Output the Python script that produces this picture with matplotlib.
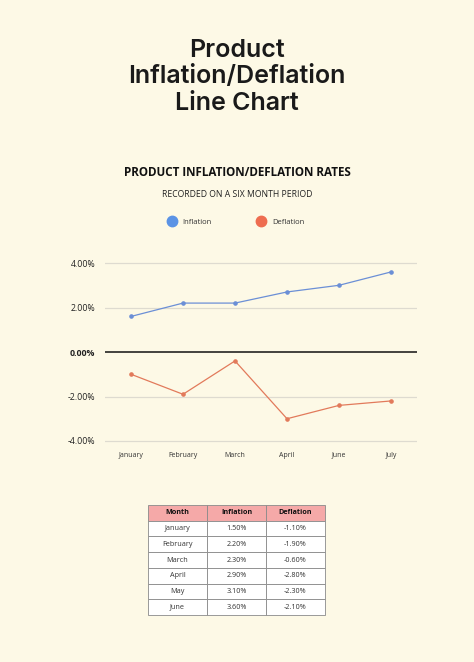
import numpy as np
import matplotlib.pyplot as plt
from matplotlib.lines import Line2D

months = ['January', 'February', 'March', 'April', 'June', 'July']
inflation = [1.6, 2.2, 2.2, 2.7, 3.0, 3.6]
deflation = [-1.0, -1.9, -0.4, -3.0, -2.4, -2.2]
y_ticks = [-4, -2, 0, 2, 4]

table_cols = ['Month', 'Inflation', 'Deflation']
table_months = ['January', 'February', 'March', 'April', 'May', 'June']
table_infl = ['1.50%', '2.20%', '2.30%', '2.90%', '3.10%', '3.60%']
table_defl = ['-1.10%', '-1.90%', '-0.60%', '-2.80%', '-2.30%', '-2.10%']

BG = '#fdf9e6'
BLUE = '#6b8fd6'
RED = '#e27a5b'
FONT = 'Open Sans'

plt.rcParams['font.family'] = [FONT, 'DejaVu Sans']

fig = plt.figure(figsize=(4.74, 6.62), dpi=100, facecolor=BG)

fig.text(0.5, 1 - 77 / 662, 'Product\nInflation/Deflation\nLine Chart', ha='center', va='center',
         fontsize=18, fontweight='semibold', family='Inter', color='#1a1a1a', linespacing=1.2)
fig.text(0.5, 1 - 173 / 662, 'PRODUCT INFLATION/DEFLATION RATES', ha='center', va='center',
         fontsize=8.4, fontweight='bold', color='#111111')
fig.text(0.5, 1 - 195 / 662, 'RECORDED ON A SIX MONTH PERIOD', ha='center', va='center',
         fontsize=6.2, color='#222222')

ax = fig.add_axes([105 / 474, 0.3305, 312 / 474, 0.2755])
ax.set_facecolor(BG)
x = np.arange(len(months))
ax.plot(x, inflation, color=BLUE, lw=0.9, marker='o', ms=2.3)
ax.plot(x, deflation, color=RED, lw=0.9, marker='o', ms=2.3)

for t in y_ticks:
    if t == 0:
        ax.axhline(t, color='#111111', lw=1.1, zorder=0)
    else:
        ax.axhline(t, color='#dedbd0', lw=0.9, zorder=0)

ax.set_xlim(-0.5, len(months) - 0.5)
ax.set_ylim(-4.1, 4.1)
ax.set_xticks(x)
ax.set_xticklabels(months, fontsize=5, color='#333333')
ax.set_yticks(y_ticks)
ax.set_yticklabels(['%.2f%%' % t for t in y_ticks], fontsize=6.3, color='#222222')
for lbl in ax.get_yticklabels():
    if lbl.get_text() == '0.00%':
        lbl.set_fontweight('bold')
ax.tick_params(length=0, pad=7)
ax.tick_params(axis='x', pad=6)
for s in ax.spines.values():
    s.set_visible(False)

handles = [Line2D([], [], ls='none', marker='o', ms=7.5, color='#5b93e5'),
           Line2D([], [], ls='none', marker='o', ms=7.5, color='#ee6d50')]
fig.legend(handles, ['Inflation', 'Deflation'], loc='center', ncol=2,
           bbox_to_anchor=(234 / 474, 1 - 222 / 662), frameon=False, fontsize=5.5,
           handletextpad=0.4, columnspacing=5.5, labelcolor='#333333')

tax = fig.add_axes([148 / 474, 1 - 615 / 662, 177 / 474, 110 / 662])
tax.axis('off')
rows = [[m, i, d] for m, i, d in zip(table_months, table_infl, table_defl)]
tbl = tax.table(cellText=rows, colLabels=table_cols, cellLoc='center', bbox=[0, 0, 1, 1])
tbl.auto_set_font_size(False)
for (r, c), cell in tbl.get_celld().items():
    cell.set_edgecolor('#8a8a8a')
    cell.set_linewidth(0.6)
    cell.get_text().set_fontsize(5.2)
    cell.get_text().set_color('#333333')
    if r == 0:
        cell.set_facecolor('#f5a9a8')
        cell.get_text().set_fontweight('bold')
        cell.get_text().set_color('#111111')
    else:
        cell.set_facecolor('white')

fig.savefig('out.png', dpi=100, facecolor=BG)
